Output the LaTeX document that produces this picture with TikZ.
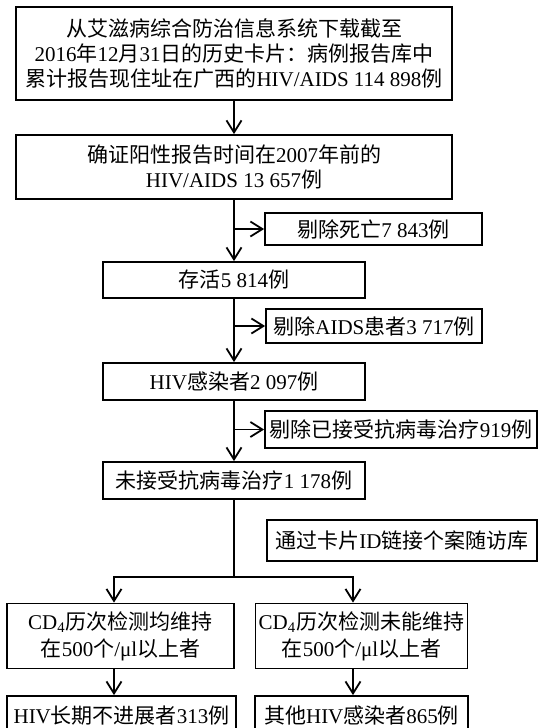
\documentclass[tikz,border=0pt]{standalone}
\usepackage{fontspec}
\setmainfont{Liberation Serif}
\newfontfamily\cjkfont{Noto Sans CJK SC}
\usetikzlibrary{arrows.meta}

% switch to the CJK font for Chinese characters
\XeTeXinterchartokenstate=1
\newXeTeXintercharclass\cjkclass
\newcount\cjkcode
\newcommand\cjkrange[2]{\cjkcode=#1\relax
  \loop\XeTeXcharclass\cjkcode=\cjkclass\advance\cjkcode by 1\relax
  \ifnum\cjkcode<#2\repeat}
\cjkrange{"3000}{"3040}
\cjkrange{"4E00}{"A000}
\cjkrange{"FF00}{"FFF0}
\XeTeXinterchartoks 0 \cjkclass = {\cjkfont}
\XeTeXinterchartoks 4095 \cjkclass = {\cjkfont}
\XeTeXinterchartoks \cjkclass 0 = {\rmfamily}

\begin{document}
\begin{tikzpicture}[
    x=0.5pt, y=-0.5pt,
    line width=0.9pt,
    >={Straight Barb[length=6pt,width=7.5pt]},
    % boxes of the flow chart
    box/.style={draw, inner sep=0pt, align=center,
      font=\fontsize{10.5pt}{12.5pt}\selectfont}
]
    \useasboundingbox (0,0) rectangle (546,728);

    % --- MAIN COLUMN ---
    \node[box, minimum width=218pt, minimum height=46.5pt] (src) at (234,53.5)
      {从艾滋病综合防治信息系统下载截至\\2016年12月31日的历史卡片：病例报告库中\\累计报告现住址在广西的HIV/AIDS 114 898例};
    \node[box, minimum width=218pt, minimum height=32pt] (pre) at (234,167)
      {确证阳性报告时间在2007年前的\\HIV/AIDS 13 657例};
    \node[box, minimum width=131pt, minimum height=18pt] (alive) at (234,280) {存活5 814例};
    \node[box, minimum width=131pt, minimum height=18.5pt] (hiv) at (234,381.5) {HIV感染者2 097例};
    \node[box, minimum width=131pt, minimum height=18.5pt] (noart) at (234,480.5) {未接受抗病毒治疗1 178例};

    % --- EXCLUSIONS ON RIGHT ---
    \node[box, minimum width=108.5pt, minimum height=16pt] (death) at (373.5,229) {剔除死亡7 843例};
    \node[box, minimum width=108pt, minimum height=17pt] (aids) at (374,326) {剔除AIDS患者3 717例};
    \node[box, minimum width=136pt, minimum height=18.5pt] (art) at (401,429.5) {剔除已接受抗病毒治疗919例};
    \node[box, minimum width=135pt, minimum height=20.5pt] (link) at (402,540.5) {通过卡片ID链接个案随访库};

    % --- TWO GROUPS AT THE BOTTOM ---
    \node[box, minimum width=113.5pt, minimum height=32.5pt] (cdhigh) at (120.5,636)
      {CD\textsubscript{4}历次检测均维持\\[1pt]在500个/μl以上者};
    \node[box, minimum width=106pt, minimum height=32.5pt] (cdlow) at (361.5,636)
      {CD\textsubscript{4}历次检测未能维持\\[1pt]在500个/μl以上者};
    % bottom edge runs off the page
    \node[box, minimum width=114.5pt, minimum height=20pt] (ltnp) at (121.5,716) {HIV长期不进展者313例};
    \node[box, minimum width=106.5pt, minimum height=20pt] (other) at (361.5,716) {其他HIV感染者865例};

    % --- CONNECTORS ---
    \draw[->] (src) -- (pre);
    \draw[->] (pre) -- (alive);
    \draw[->] (pre.south |- death.west) -- (death);
    \draw[->] (alive) -- (hiv);
    \draw[->] (alive.south |- aids.west) -- (aids);
    \draw[->] (hiv) -- (noart);
    \draw[->] (hiv.south |- art.west) -- (art);

    \coordinate (split) at (234,577);
    \draw (noart) -- (split);
    \draw[->] (split) -| ([xshift=-3.25pt]cdhigh.north);
    \draw[->] (split) -| ([xshift=-4.25pt]cdlow.north);
    \draw[->] ([xshift=-3.25pt]cdhigh.south) -- ([xshift=-3.25pt]cdhigh.south |- ltnp.north);
    \draw[->] ([xshift=-4.25pt]cdlow.south) -- ([xshift=-4.25pt]cdlow.south |- other.north);

\end{tikzpicture}
\end{document}
